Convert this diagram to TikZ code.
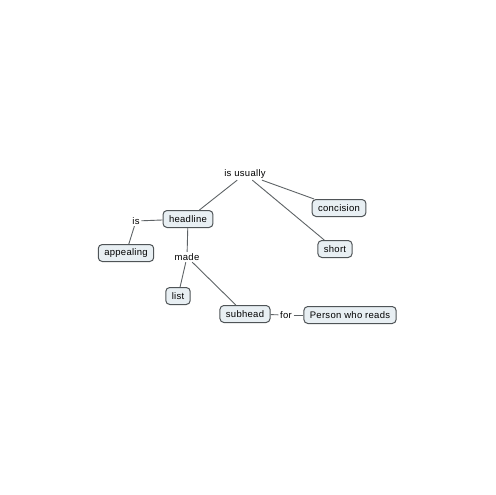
\documentclass[tikz,border=0pt]{standalone}
\usepackage{fontspec}
\setmainfont{Liberation Sans}[LetterSpace=3]
\usetikzlibrary{positioning}

\definecolor{boxfill}{HTML}{E8EFF3}
\definecolor{boxline}{HTML}{4F5457}
\definecolor{linkline}{HTML}{5E6366}

\tikzset{
  concept/.style={rectangle,rounded corners=4pt,draw=boxline,line width=1pt,fill=boxfill,
    inner xsep=6pt,inner ysep=2pt,minimum height=17pt,font=\fontsize{9.5}{11}\selectfont},
  linkword/.style={inner sep=1.5pt,font=\fontsize{9.5}{11}\selectfont},
  link/.style={draw=linkline,line width=0.9pt}
}

\begin{document}
\begin{tikzpicture}[x=1pt,y=-1pt]
  \useasboundingbox (0,0) rectangle (495,495);
  \node[linkword] (usually) at (245,174) {is usually};
  \node[concept] (headline) at (188,219) {headline};
  \node[concept] (concision) at (339,208) {concision};
  \node[concept] (short) at (335,249) {short};
  \node[linkword] (is) at (136,221) {is};
  \node[concept] (appealing) at (126,253) {appealing};
  \node[linkword] (made) at (187,257) {made};
  \node[concept] (list) at (178,296) {list};
  \node[concept] (subhead) at (245,314) {subhead};
  \node[linkword] (for) at (286,315) {for};
  \node[concept] (reader) at (350,315) {Person who reads};

      \draw[link] (usually) to (headline);
      \draw[link] (usually) to (concision);
      \draw[link] (usually) to (short);
      \draw[link] (headline) to (is);
      \draw[link] (is) to (appealing);
      \draw[link] (headline) to (made);
      \draw[link] (made) to (list);
      \draw[link] (made) to (subhead);
      \draw[link] (subhead) to (for);
      \draw[link] (for) to (reader);
\end{tikzpicture}
\end{document}
